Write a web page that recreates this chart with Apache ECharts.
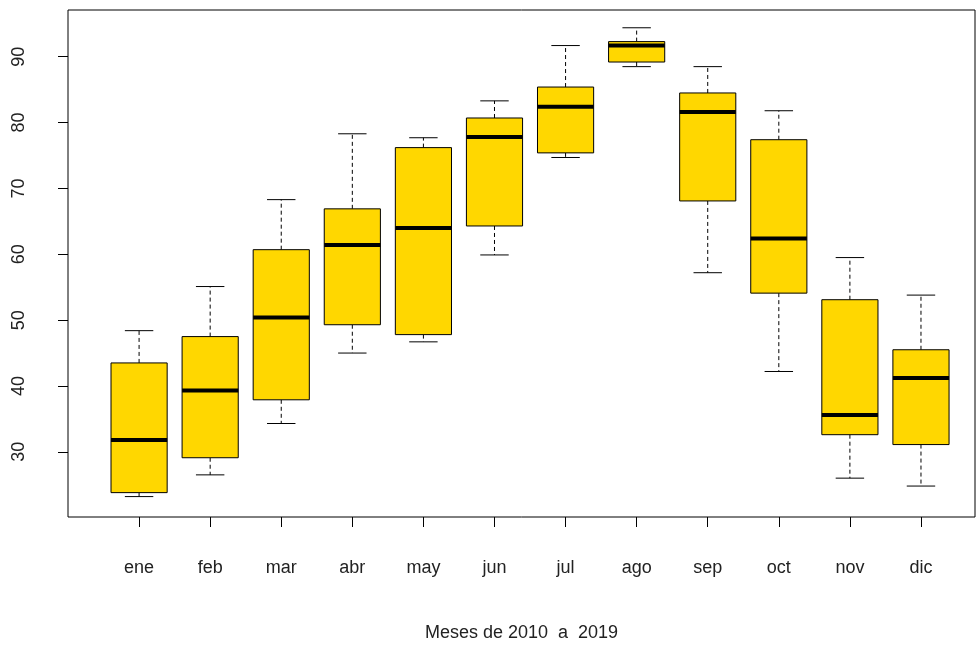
<!DOCTYPE html>
<html><head><meta charset="utf-8">
<script src="https://cdn.jsdelivr.net/npm/echarts@6/dist/echarts.min.js"></script>
<style>body{margin:0;background:#fff}#c{width:979px;height:646px}</style>
</head><body><div id="c"></div>
<script>
const months = ['ene','feb','mar','abr','may','jun','jul','ago','sep','oct','nov','dic'];
const whiskerLow = [23.2,26.5,34.3,45.0,46.7,59.9,74.7,88.5,57.2,42.2,26.0,24.8];
const q1 = [23.8,29.1,37.9,49.3,47.8,64.3,75.4,89.2,68.1,54.1,32.6,31.1];
const median = [31.8,39.3,50.4,61.4,64.0,77.8,82.4,91.7,81.6,62.4,35.6,41.2];
const q3 = [43.5,47.5,60.7,66.9,76.2,80.7,85.4,92.3,84.5,77.4,53.1,45.5];
const whiskerHigh = [48.4,55.1,68.3,78.3,77.7,83.3,91.7,94.4,88.5,81.8,59.5,53.8];
const yTicks = [30,40,50,60,70,80,90];

const data = months.map((m,i)=>[i+1, whiskerLow[i], q1[i], median[i], q3[i], whiskerHigh[i]]);
const font = 'Liberation Sans, Arial, sans-serif';
const chart = echarts.init(document.getElementById('c'));
chart.setOption({
  animation:false,
  grid:{left:68,right:4,top:10,bottom:129,outerBoundsMode:'none',containLabel:false,show:true,borderColor:'#000',borderWidth:1,backgroundColor:'transparent'},
  xAxis:{type:'value',min:0,max:12.76,name:'Meses de 2010  a  2019',nameLocation:'middle',nameGap:107,
    nameTextStyle:{fontFamily:font,fontSize:18,color:'#222'},
    axisLine:{show:false},splitLine:{show:false},
    axisTick:{show:true,length:10,customValues:months.map((m,i)=>i+1),lineStyle:{color:'#000'}},
    axisLabel:{customValues:months.map((m,i)=>i+1),formatter:v=>months[v-1],margin:42,fontFamily:font,fontSize:18,color:'#222'}},
  yAxis:{type:'value',min:20.1,max:97.1,splitLine:{show:false},
    axisLine:{show:false},
    axisTick:{show:true,length:10,customValues:yTicks,lineStyle:{color:'#000'}},
    axisLabel:{customValues:yTicks,rotate:90,margin:40,fontFamily:font,fontSize:18,color:'#222'}},
  series:[{type:'custom',data:data,encode:{x:0,y:[1,2,3,4,5]},
    renderItem:(params,api)=>{
      const x=api.value(0);
      const p=k=>api.coord([x,api.value(k)]);
      const lo=p(1),b1=p(2),md=p(3),b3=p(4),hi=p(5);
      const hw=api.size([0.395,0])[0], cw=api.size([0.2,0])[0];
      const cx=lo[0];
      const dash={stroke:'#000',lineWidth:1,lineDash:[4,3]};
      const solid={stroke:'#000',lineWidth:1};
      return {type:'group',children:[
        {type:'line',shape:{x1:cx,y1:b3[1],x2:cx,y2:hi[1]},style:dash},
        {type:'line',shape:{x1:cx,y1:b1[1],x2:cx,y2:lo[1]},style:dash},
        {type:'line',shape:{x1:cx-cw,y1:hi[1],x2:cx+cw,y2:hi[1]},style:solid},
        {type:'line',shape:{x1:cx-cw,y1:lo[1],x2:cx+cw,y2:lo[1]},style:solid},
        {type:'rect',shape:{x:cx-hw,y:b3[1],width:2*hw,height:b1[1]-b3[1]},style:{fill:'#FFD700',stroke:'#000',lineWidth:1}},
        {type:'line',shape:{x1:cx-hw,y1:md[1],x2:cx+hw,y2:md[1]},style:{stroke:'#000',lineWidth:4}}
      ]};
    }}]
});
</script></body></html>
